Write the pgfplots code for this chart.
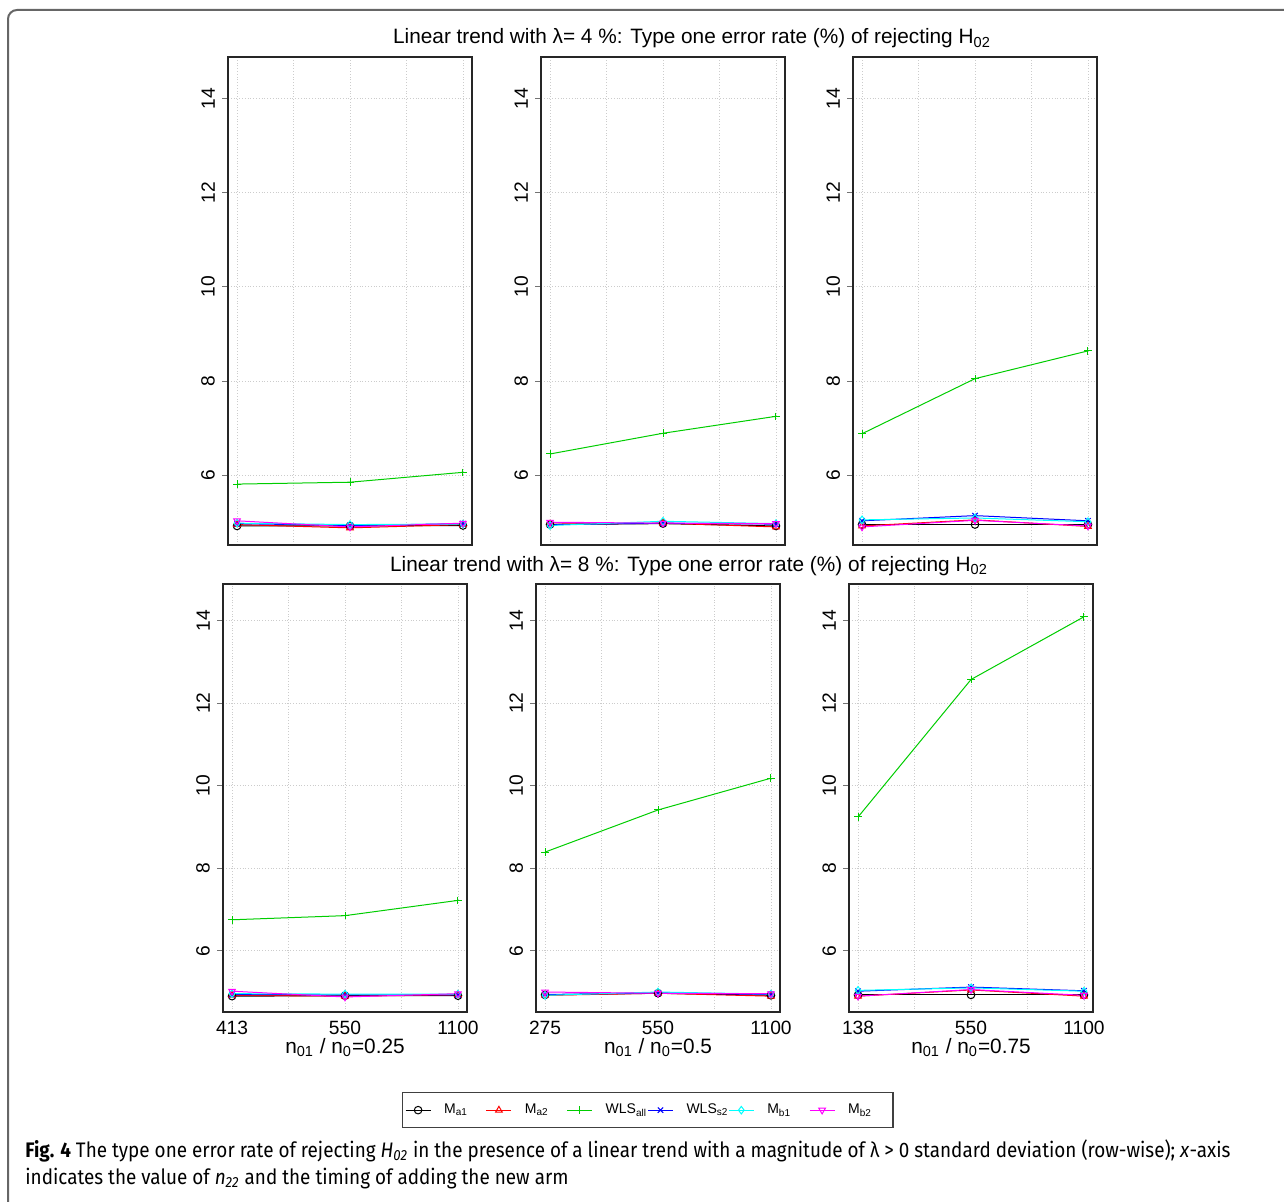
\documentclass[border=0pt]{standalone}
\usepackage{fontspec}
\setmainfont{Liberation Sans}
\newfontfamily\capfont[FakeStretch=0.90]{Fira Sans}
\usepackage{pgfplots}
\usepackage{pgfplotstable}
\pgfplotsset{compat=1.18}

\definecolor{rgreen}{RGB}{0,205,0}
\definecolor{rcyan}{RGB}{0,255,255}
\definecolor{rmag}{RGB}{255,0,255}

% lambda = 4%
\pgfplotstableread{
x ma1 ma2 wlsall wlss2 mb1 mb2
1 4.92 4.95 5.81 4.97 4.98 5.03
2 4.92 4.88 5.85 4.93 4.95 4.90
3 4.93 4.95 6.06 4.97 4.96 4.98
}\tAa
\pgfplotstableread{
x ma1 ma2 wlsall wlss2 mb1 mb2
1 4.95 4.96 6.45 4.95 4.93 5.00
2 4.97 4.98 6.89 4.98 5.02 4.98
3 4.92 4.90 7.25 4.96 4.97 4.97
}\tAb
\pgfplotstableread{
x ma1 ma2 wlsall wlss2 mb1 mb2
1 4.95 4.92 6.88 5.03 5.05 4.90
2 4.95 5.05 8.05 5.14 5.09 5.04
3 4.95 4.91 8.64 5.03 5.01 4.92
}\tAc
% lambda = 8%
\pgfplotstableread{
x ma1 ma2 wlsall wlss2 mb1 mb2
1 4.90 4.92 6.75 4.94 4.96 5.02
2 4.91 4.90 6.85 4.93 4.95 4.88
3 4.91 4.93 7.22 4.93 4.95 4.96
}\tBa
\pgfplotstableread{
x ma1 ma2 wlsall wlss2 mb1 mb2
1 4.93 4.92 8.39 4.94 4.92 5.00
2 4.97 4.97 9.41 4.98 5.00 4.97
3 4.92 4.90 10.18 4.94 4.95 4.96
}\tBb
\pgfplotstableread{
x ma1 ma2 wlsall wlss2 mb1 mb2
1 4.93 4.90 9.24 5.02 5.04 4.90
2 4.93 5.05 12.57 5.12 5.10 5.06
3 4.93 4.90 14.09 5.03 5.02 4.92
}\tBc

\newcommand\series[1]{%
 \addplot[black, mark=o, mark options={solid}] table[x=x,y=ma1]{#1};
 \addplot[red, mark=triangle, mark options={solid}] table[x=x,y=ma2]{#1};
 \addplot[rgreen, mark=+, mark options={solid}] table[x=x,y=wlsall]{#1};
 \addplot[blue, mark=x, mark options={solid}] table[x=x,y=wlss2]{#1};
 \addplot[rcyan, mark=diamond, mark options={solid}] table[x=x,y=mb1]{#1};
 \addplot[rmag, mark=triangle, mark options={solid, rotate=180}] table[x=x,y=mb2]{#1};
}

\pgfplotsset{
  panel/.style={
    scale only axis, width=122pt,
    xmin=0.92, xmax=3.08, ymin=4.516, ymax=14.884,
    xtick={1,2,3}, minor xtick={1.5,2.5},
    ytick={6,8,10,12,14},
    tick pos=left,
    grid=both,
    major grid style={densely dotted, black!20, line width=0.45pt},
    minor grid style={densely dotted, black!20, line width=0.45pt},
    axis line style={black!85, line width=0.65pt},
    tick align=outside,
    xtick style={draw=none}, minor tick length=0pt,
    ytick style={draw=black!55, line width=0.5pt},
    major tick length=3pt,
    /pgf/number format/assume math mode=true,
    ticklabel style={font=\fontsize{9.6}{10}\selectfont},
    yticklabel style={rotate=90, anchor=south, xshift=0pt},
    xticklabel style={yshift=2pt},
    every axis plot/.append style={line width=0.5pt, mark size=1.9pt},
    legend image code/.code={
      \draw[mark repeat=2, mark phase=2, ##1] plot coordinates {(0pt,0pt) (6.25pt,0pt) (12.5pt,0pt)};
    },
  },
  toprow/.style={panel, height=244pt, xticklabels={}},
  botrow/.style={panel, height=214pt,
    xlabel style={at={(axis description cs:0.5,0)}, anchor=base, yshift=-20.5pt, font=\fontsize{10.4}{12}\selectfont}},
}

\begin{document}
\begin{tikzpicture}
\useasboundingbox (0,0) rectangle (642pt,600.5pt);
\draw[black!60, line width=1pt, rounded corners=4.5pt] (4pt,-20pt) -- (4pt,595.5pt) -- (680pt,595.5pt);

\node[anchor=base, font=\fontsize{10.4}{12}\selectfont] at (346pt,578.5pt) {Linear trend with λ= 4 \%: Type one error rate (\%) of rejecting H\textsubscript{02}};
\node[anchor=base, font=\fontsize{10.4}{12}\selectfont] at (344.5pt,315pt) {Linear trend with λ= 8 \%: Type one error rate (\%) of rejecting H\textsubscript{02}};

% top row
\begin{axis}[toprow, at={(114pt,328pt)}, anchor=south west]
\series{\tAa}
\end{axis}
\begin{axis}[toprow, at={(270.5pt,328pt)}, anchor=south west]
\series{\tAb}
\end{axis}
\begin{axis}[toprow, at={(426.5pt,328pt)}, anchor=south west]
\series{\tAc}
\end{axis}

% bottom row
\begin{axis}[botrow, at={(111.5pt,94.5pt)}, anchor=south west,
  xticklabels={413,550,1100}, xlabel={n\textsubscript{01} / n\textsubscript{0}=0.25}]
\series{\tBa}
\end{axis}
\begin{axis}[botrow, at={(268pt,94.5pt)}, anchor=south west,
  xticklabels={275,550,1100}, xlabel={n\textsubscript{01} / n\textsubscript{0}=0.5},
  legend columns=6,
  legend style={at={(0.457,-0.187)}, anchor=north, draw=black!75, line width=0.6pt,
    font=\fontsize{7}{8}\selectfont, inner xsep=1.5pt, inner ysep=5.5pt,
    nodes={inner xsep=0pt, inner ysep=0pt, text height=5pt, text depth=1.5pt},
    /tikz/every odd column/.append style={column sep=6.5pt},
    /tikz/every even column/.append style={column sep=0pt}},
  legend entries={\makebox[20.9pt][l]{M\textsubscript{a1}},\makebox[20.9pt][l]{M\textsubscript{a2}},\makebox[20.9pt][l]{WLS\textsubscript{all}},\makebox[20.9pt][l]{WLS\textsubscript{s2}},\makebox[20.9pt][l]{M\textsubscript{b1}},\makebox[20.9pt][l]{M\textsubscript{b2}}}]
\series{\tBb}
\end{axis}
\begin{axis}[botrow, at={(424.5pt,94.5pt)}, anchor=south west,
  xticklabels={138,550,1100}, xlabel={n\textsubscript{01} / n\textsubscript{0}=0.75}]
\series{\tBc}
\end{axis}

\node[anchor=base west, inner sep=0pt, font=\capfont\fontsize{10.5}{12}\selectfont] at (12.5pt,22pt) {\textbf{Fig. 4} The type one error rate of rejecting \textit{H}\textsubscript{\textit{02}} in the presence of a linear trend with a magnitude of λ > 0 standard deviation (row-wise); \textit{x}-axis};
\node[anchor=base west, inner sep=0pt, font=\capfont\fontsize{10.5}{12}\selectfont] at (12.5pt,8.5pt) {indicates the value of \textit{n}\textsubscript{\textit{22}} and the timing of adding the new arm};
\end{tikzpicture}
\end{document}
